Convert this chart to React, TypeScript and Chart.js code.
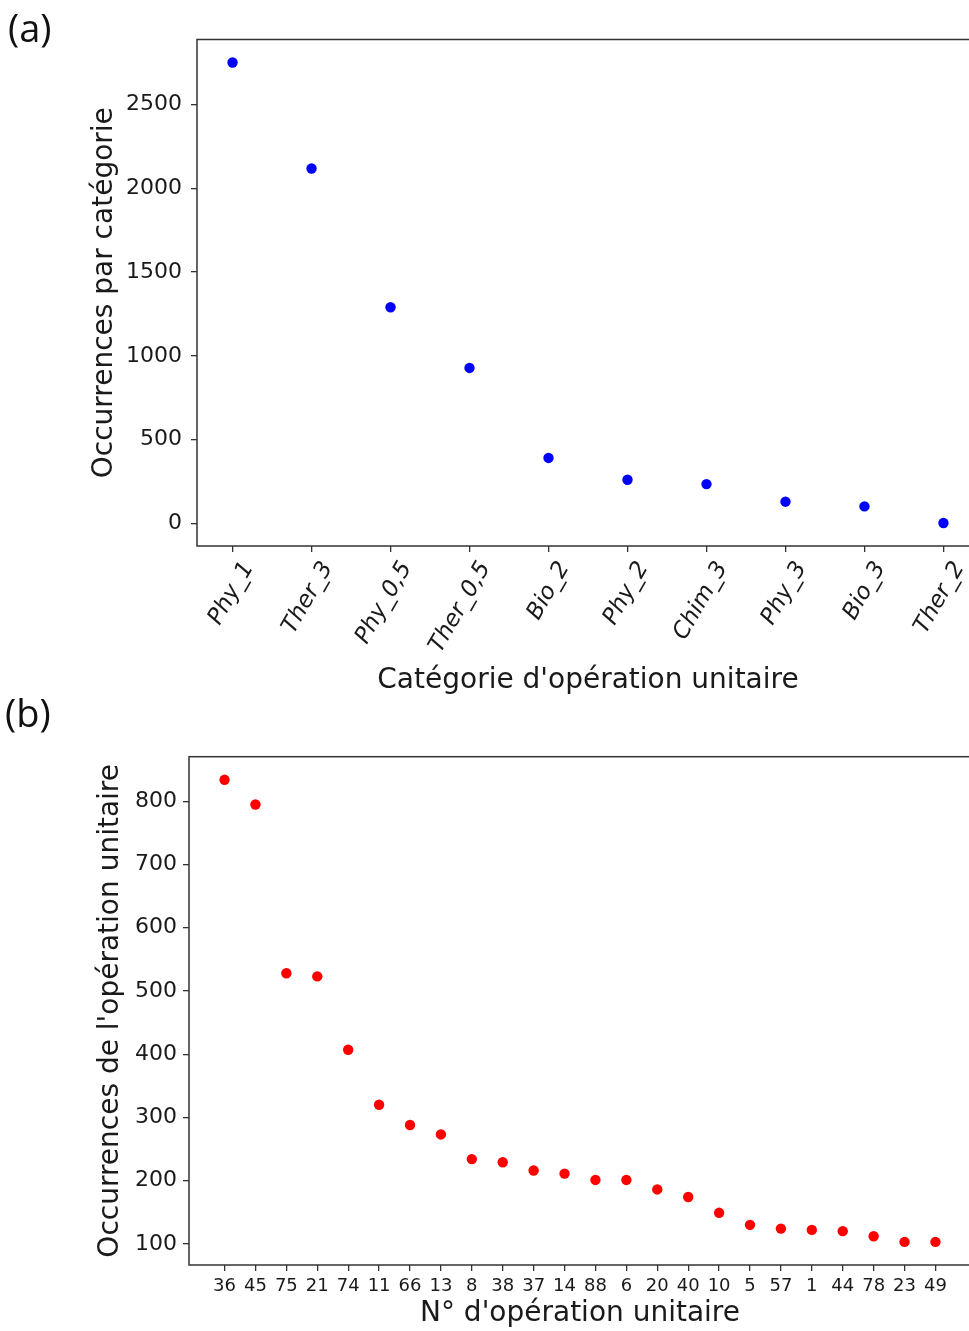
import React, { useEffect, useRef } from 'react';
import { Chart, registerables } from 'chart.js';

Chart.register(...registerables);

// ---------- Data ----------
const categoriesA = ['Phy_1', 'Ther_3', 'Phy_0,5', 'Ther_0,5', 'Bio_2', 'Phy_2', 'Chim_3', 'Phy_3', 'Bio_3', 'Ther_2'];
const occurrencesA = [2750, 2118, 1290, 928, 391, 261, 235, 130, 102, 3];
const yTickStepA = 500;

const operationsB = ['36', '45', '75', '21', '74', '11', '66', '13', '8', '38', '37', '14', '88', '6', '20', '40', '10', '5', '57', '1', '44', '78', '23', '49'];
const occurrencesB = [834, 795, 528, 523, 407, 320, 288, 273, 234, 229, 216, 211, 201, 201, 186, 174, 149, 130, 124, 122, 120, 112, 103, 103];
const yTickStepB = 100;

const FONT = "'DejaVu Sans', 'Liberation Sans', sans-serif";
const TEXT = '#1a1a1a';
const LINE = '#333333';

const framePlugin = {
  id: 'frame',
  afterDraw(chart: any) {
    const { ctx, chartArea } = chart;
    const { left, top, right, bottom } = chartArea;
    ctx.save();
    ctx.strokeStyle = LINE;
    ctx.lineWidth = 1.5;
    ctx.strokeRect(left, top, right - left, bottom - top);
    ctx.restore();
  },
};

interface Params {
  labels: string[];
  values: number[];
  step: number;
  color: string;
  top: number;
  right: number;
  xHeight: number;
  yWidth: number;
  rot: number;
  italic: boolean;
  xTickSize: number;
  labelOffset: number;
  xPad: number;
  yPad: number;
  xTitle: string;
  yTitle: string;
  xTitlePad: number;
  yTitlePad: number;
}

function buildConfig(p: Params): any {
  const n = p.values.length;
  const xMargin = 0.05 * (n - 1);
  const vmin = Math.min(...p.values);
  const vmax = Math.max(...p.values);
  const yMargin = 0.05 * (vmax - vmin);
  const grid = {
    display: true,
    drawOnChartArea: false,
    drawTicks: true,
    tickLength: 6,
    tickColor: LINE,
    lineWidth: 1.3,
  };
  return {
    type: 'scatter',
    data: {
      datasets: [
        {
          data: p.values.map((v, i) => ({ x: i, y: v })),
          backgroundColor: p.color,
          borderColor: p.color,
          borderWidth: 0,
          pointRadius: 5.2,
          pointHoverRadius: 5.2,
        },
      ],
    },
    options: {
      animation: false,
      responsive: false,
      events: [],
      layout: { padding: { left: 0, top: p.top, right: p.right, bottom: 0 } },
      plugins: { legend: { display: false }, tooltip: { enabled: false } },
      scales: {
        x: {
          type: 'linear',
          min: -xMargin,
          max: n - 1 + xMargin,
          afterBuildTicks: (s: any) => {
            s.ticks = p.labels.map((_, i) => ({ value: i }));
          },
          afterFit: (s: any) => {
            s.height = p.xHeight;
          },
          grid,
          border: { display: false },
          ticks: {
            autoSkip: false,
            maxRotation: p.rot,
            minRotation: p.rot,
            labelOffset: p.labelOffset,
            padding: p.xPad,
            color: TEXT,
            font: { family: FONT, size: p.xTickSize, style: p.italic ? 'italic' : 'normal' },
            callback: (v: number) => p.labels[Math.round(v)] ?? '',
          },
          title: {
            display: true,
            text: p.xTitle,
            color: TEXT,
            font: { family: FONT, size: 28 },
            padding: { top: 0, bottom: p.xTitlePad },
          },
        },
        y: {
          type: 'linear',
          min: vmin - yMargin,
          max: vmax + yMargin,
          afterBuildTicks: (s: any) => {
            const ticks: any[] = [];
            for (let v = Math.ceil(s.min / p.step) * p.step; v <= s.max; v += p.step) ticks.push({ value: v });
            s.ticks = ticks;
          },
          afterFit: (s: any) => {
            s.width = p.yWidth;
          },
          grid,
          border: { display: false },
          ticks: {
            padding: p.yPad,
            color: TEXT,
            font: { family: FONT, size: 22 },
            callback: (v: number) => String(v),
          },
          title: {
            display: true,
            text: p.yTitle,
            color: TEXT,
            font: { family: FONT, size: 28 },
            padding: { top: p.yTitlePad, bottom: 0 },
          },
        },
      },
    },
    plugins: [framePlugin],
  };
}

export default function App() {
  const refA = useRef<HTMLCanvasElement>(null);
  const refB = useRef<HTMLCanvasElement>(null);

  useEffect(() => {
    const a = new Chart(
      refA.current as HTMLCanvasElement,
      buildConfig({
        labels: categoriesA,
        values: occurrencesA,
        step: yTickStepA,
        color: '#0000ff',
        top: 39.5,
        right: 21,
        xHeight: 154,
        yWidth: 197,
        rot: 60,
        italic: true,
        xTickSize: 23,
        labelOffset: 16,
        xPad: 5,
        yPad: 9,
        xTitle: "Catégorie d'opération unitaire",
        yTitle: 'Occurrences par catégorie',
        xTitlePad: 2,
        yTitlePad: 88,
      })
    );
    const b = new Chart(
      refB.current as HTMLCanvasElement,
      buildConfig({
        labels: operationsB,
        values: occurrencesB,
        step: yTickStepB,
        color: '#ff0000',
        top: 56.7,
        right: 29,
        xHeight: 66,
        yWidth: 189,
        rot: 0,
        italic: false,
        xTickSize: 18,
        labelOffset: 0,
        xPad: 5,
        yPad: 6,
        xTitle: "N° d'opération unitaire",
        yTitle: "Occurrences de l'opération unitaire",
        xTitlePad: 0,
        yTitlePad: 94,
      })
    );
    return () => {
      a.destroy();
      b.destroy();
    };
  }, []);

  const panelLabel: React.CSSProperties = {
    position: 'absolute',
    fontFamily: "'Open Sans', 'Noto Sans', sans-serif",
    fontSize: 38,
    lineHeight: 1,
    color: '#111',
  };

  return (
    <div
      style={{
        position: 'absolute',
        left: 0,
        top: 0,
        width: 969,
        height: 1331,
        overflow: 'hidden',
        background: '#ffffff',
      }}
    >
      <canvas ref={refA} width={1000} height={700} style={{ position: 'absolute', left: 0, top: 0, width: 1000, height: 700 }} />
      <canvas ref={refB} width={1000} height={631} style={{ position: 'absolute', left: 0, top: 700, width: 1000, height: 631 }} />
      <div style={{ ...panelLabel, left: 8, top: 8 }}>(a)</div>
      <div style={{ ...panelLabel, left: 5, top: 693 }}>(b)</div>
    </div>
  );
}
